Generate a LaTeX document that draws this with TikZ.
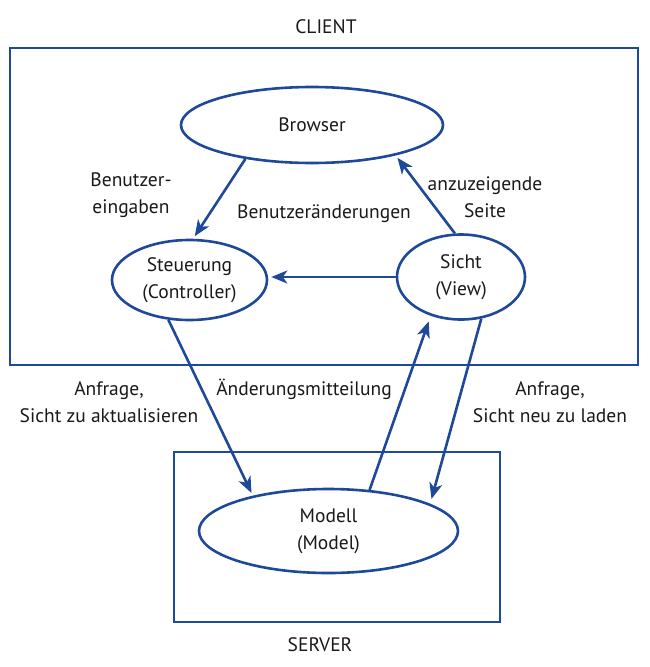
\documentclass[tikz,border=0pt]{standalone}
\usepackage{fontspec}
\setmainfont{PT Sans}
\usetikzlibrary{shapes.geometric,arrows.meta}
\definecolor{mvcblue}{RGB}{30,72,152}
\definecolor{txt}{RGB}{25,25,25}
\begin{document}
\begin{tikzpicture}[x=1pt,y=-1pt,
  every node/.style={text=txt,font=\fontsize{19.5}{27}\selectfont},
  elli/.style={ellipse,draw=mvcblue,line width=2.6pt,inner sep=0pt,align=center},
  frame/.style={draw=mvcblue,line width=2.6pt},
  conn/.style={draw=mvcblue,line width=2.6pt,-{Stealth[length=16pt,width=13pt,inset=4.5pt]},shorten >=3pt},
  lbl/.style={align=center}]
\useasboundingbox (0,0) rectangle (649,667);
% frames
\draw[frame] (10,48) rectangle (638,365);
\draw[frame] (174,452) rectangle (500,622);
\node (client) at (326,27) {CLIENT};
\node (server) at (320,645) {SERVER};
% ellipses
\node[elli,minimum width=262pt,minimum height=76pt] (browser) at (312,125) {Browser};
\node[elli,minimum width=155pt,minimum height=80pt] (steuer) at (189.5,280) {Steuerung\\(Controller)};
\node[elli,minimum width=128pt,minimum height=85pt] (sicht) at (461,277) {Sicht\\(View)};
\node[elli,minimum width=259pt,minimum height=84pt] (modell) at (328.5,531) {Modell\\(Model)};
% connectors
\draw[conn] (browser.207) -- (steuer.85);
\draw[conn] (sicht.98) -- (browser.340);
\draw[conn] (sicht.west) -- (sicht.west -| steuer.east);
\draw[conn] (steuer.242) -- (modell.155);
\draw[conn,shorten >=6pt] (modell.45) -- (sicht.232);
\draw[conn,shorten >=5pt] (sicht.296) -- (modell.15);
% labels
\node[lbl] (l1) at (131,195.5) {Benutzer-\\eingaben};
\node[lbl] (l2) at (324,214) {Benutzeränderungen};
\node[lbl] (l3) at (485,197) {anzuzeigende\\Seite};
\node[lbl] (l4) at (109,402) {Anfrage,\\Sicht zu aktualisieren};
\node[lbl] (l5) at (304,389) {Änderungsmitteilung};
\node[lbl] (l6) at (550,402) {Anfrage,\\Sicht neu zu laden};
\end{tikzpicture}
\end{document}
